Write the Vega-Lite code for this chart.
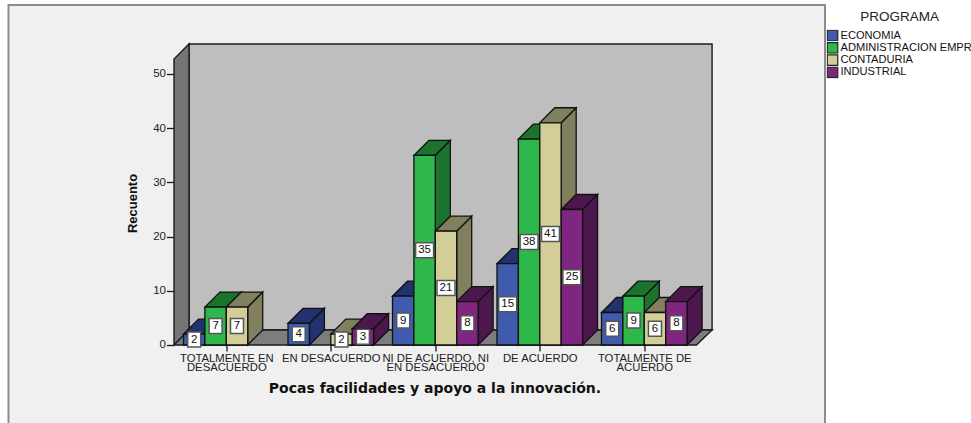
{
"$schema":"https://vega.github.io/schema/vega-lite/v6.json",
"width":816.5,"height":419,
"autosize":{"type":"none"},
"padding":{"left":8.5,"top":5,"right":146,"bottom":0},
"background":"#ffffff",
"view":{"fill":"#f0f0f0","stroke":"#8c8c8c","strokeWidth":2},
"datasets":{
"bars":[
{"categoria":"TOTALMENTE EN DESACUERDO","g":0,"s":0,"programa":"ECONOMIA","v":2},
{"categoria":"TOTALMENTE EN DESACUERDO","g":0,"s":1,"programa":"ADMINISTRACION EMPR","v":7},
{"categoria":"TOTALMENTE EN DESACUERDO","g":0,"s":2,"programa":"CONTADURIA","v":7},
{"categoria":"EN DESACUERDO","g":1,"s":0,"programa":"ECONOMIA","v":4},
{"categoria":"EN DESACUERDO","g":1,"s":2,"programa":"CONTADURIA","v":2},
{"categoria":"EN DESACUERDO","g":1,"s":3,"programa":"INDUSTRIAL","v":3},
{"categoria":"NI DE ACUERDO, NI EN DESACUERDO","g":2,"s":0,"programa":"ECONOMIA","v":9},
{"categoria":"NI DE ACUERDO, NI EN DESACUERDO","g":2,"s":1,"programa":"ADMINISTRACION EMPR","v":35},
{"categoria":"NI DE ACUERDO, NI EN DESACUERDO","g":2,"s":2,"programa":"CONTADURIA","v":21},
{"categoria":"NI DE ACUERDO, NI EN DESACUERDO","g":2,"s":3,"programa":"INDUSTRIAL","v":8},
{"categoria":"DE ACUERDO","g":3,"s":0,"programa":"ECONOMIA","v":15},
{"categoria":"DE ACUERDO","g":3,"s":1,"programa":"ADMINISTRACION EMPR","v":38},
{"categoria":"DE ACUERDO","g":3,"s":2,"programa":"CONTADURIA","v":41},
{"categoria":"DE ACUERDO","g":3,"s":3,"programa":"INDUSTRIAL","v":25},
{"categoria":"TOTALMENTE DE ACUERDO","g":4,"s":0,"programa":"ECONOMIA","v":6},
{"categoria":"TOTALMENTE DE ACUERDO","g":4,"s":1,"programa":"ADMINISTRACION EMPR","v":9},
{"categoria":"TOTALMENTE DE ACUERDO","g":4,"s":2,"programa":"CONTADURIA","v":6},
{"categoria":"TOTALMENTE DE ACUERDO","g":4,"s":3,"programa":"INDUSTRIAL","v":8}
],
"frame":[
{"part":"pared","x":0.257,"y":2.768,"y2":55.54},
{"part":"pared","x":24.70,"y":2.768,"y2":55.54},
{"part":"lateral","x":-0.444,"y":0,"y2":52.77},
{"part":"lateral","x":0.257,"y":2.768,"y2":55.54},
{"part":"piso","x":-0.444,"y":0,"y2":0},
{"part":"piso","x":0.257,"y":0,"y2":2.768},
{"part":"piso","x":23.97,"y":0,"y2":2.768},
{"part":"piso","x":24.70,"y":2.768,"y2":2.768}
]
},
"layer":[
{
"data":{"name":"frame"},
"mark":{"type":"area","stroke":"#1a1a1a","strokeWidth":1.4,"opacity":1},
"encoding":{
"x":{"field":"x","type":"quantitative",
"scale":{"domain":[-8.178,29.977],"nice":false,"zero":false},
"axis":{"values":[2,6.883,11.766,16.649,21.532],"grid":false,"domain":false,"tickSize":6,"tickColor":"#1a1a1a","tickWidth":1.3,"offset":-79,
"labelExpr":"split(['TOTALMENTE EN|DESACUERDO','EN DESACUERDO','NI DE ACUERDO, NI|EN DESACUERDO','DE ACUERDO','TOTALMENTE DE|ACUERDO'][round((datum.value-2)/4.883)],'|')",
"labelFont":"Liberation Sans","labelFontSize":11.3,"labelColor":"#222222","labelLineHeight":9.4,"labelPadding":1,"labelFlush":false,"labelOverlap":false,"labelBaseline":"top",
"title":"Pocas facilidades y apoyo a la innovación.","titleFont":"DejaVu Sans","titleFontWeight":"bold","titleFontSize":14,"titleColor":"#111111","titleX":426,"titleY":43,"titleBaseline":"middle","titleAlign":"center"}},
"y":{"field":"y","type":"quantitative",
"scale":{"domain":[-14.576,62.73],"nice":false,"zero":false},
"axis":{"values":[0,10,20,30,40,50],"grid":false,"domain":false,"tickSize":7,"tickColor":"#1a1a1a","tickWidth":1.3,"offset":-165,
"labelFont":"Liberation Sans","labelFontSize":11.5,"labelColor":"#222222","labelPadding":1,
"title":"Recuento","titleFont":"Liberation Sans","titleFontWeight":"bold","titleFontSize":13,"titleColor":"#111111","titleX":-41,"titleY":198,"titleBaseline":"middle","titleAlign":"center"}},
"y2":{"field":"y2"},
"fill":{"field":"part","type":"nominal","scale":{"domain":["pared","lateral","piso","ECONOMIA","ADMINISTRACION EMPR","CONTADURIA","INDUSTRIAL"],"range":["#bebebe","#757575","#7d7d7d","#22326f","#1c732e","#807f5e","#4c174c"]},"legend":null}
}
},
{
"data":{"name":"bars"},
"transform":[
{"calculate":"datum.g*4.883+datum.s","as":"ux"},
{"calculate":"[0,1,10,11,12,13]","as":"p"},
{"flatten":["p"]},
{"calculate":"datum.p<10?'lado':'techo'","as":"cara"},
{"calculate":"datum.p<10?datum.ux+1+datum.p*0.701:datum.ux+[0,0.701,1,1.701][datum.p-10]","as":"xa"},
{"calculate":"datum.p<10?datum.p*2.768:datum.v+[0,0,0,2.768][datum.p-10]","as":"ya"},
{"calculate":"datum.p<10?datum.v+datum.p*2.768:datum.v+[0,2.768,2.768,2.768][datum.p-10]","as":"yb"},
{"calculate":"datum.g+'-'+datum.s+'-'+datum.cara","as":"clave"}
],
"mark":{"type":"area","stroke":"#111111","strokeWidth":1.3,"opacity":1},
"encoding":{
"x":{"field":"xa","type":"quantitative"},
"y":{"field":"ya","type":"quantitative"},
"y2":{"field":"yb"},
"detail":{"field":"clave","type":"nominal"},
"fill":{"field":"programa","type":"nominal","legend":null}
}
},
{
"data":{"name":"bars"},
"transform":[
{"calculate":"datum.g*4.883+datum.s","as":"ux"},
{"calculate":"datum.ux+1","as":"ux2"},
{"calculate":"0","as":"base"}
],
"mark":{"type":"rect","stroke":"#111111","strokeWidth":1.3},
"encoding":{
"x":{"field":"ux","type":"quantitative"},
"x2":{"field":"ux2"},
"y":{"field":"v","type":"quantitative"},
"y2":{"field":"base"},
"color":{"field":"programa","type":"nominal",
"scale":{"domain":["ECONOMIA","ADMINISTRACION EMPR","CONTADURIA","INDUSTRIAL"],"range":["#3e5bad","#2eb84c","#d3ce97","#7f2680"]},
"legend":{"orient":"none","legendX":818,"legendY":5,"title":"PROGRAMA","titleFont":"Liberation Sans","titleFontSize":13.5,"titleFontWeight":"normal","titleColor":"#222222","titleAnchor":"middle","titleLimit":300,"titlePadding":6,
"labelFont":"Liberation Sans","labelFontSize":11.1,"labelColor":"#111111","labelLimit":400,"labelOffset":2,"symbolType":"square","symbolSize":110,"symbolStrokeColor":"#222222","symbolStrokeWidth":1.2,"clipHeight":12,"rowPadding":0.3,"padding":0}}
}
},
{
"data":{"name":"bars"},
"transform":[
{"calculate":"datum.g*4.883+datum.s+0.5","as":"cx"},
{"calculate":"datum.v>=10?0.42:0.304","as":"hw"},
{"calculate":"datum.cx-datum.hw","as":"bx"},
{"calculate":"datum.cx+datum.hw","as":"bx2"},
{"calculate":"datum.v/2-1.384","as":"by"},
{"calculate":"datum.v/2+1.384","as":"by2"}
],
"mark":{"type":"rect","fill":"#ffffff","stroke":"#555555","strokeWidth":1.5},
"encoding":{
"x":{"field":"bx","type":"quantitative"},
"x2":{"field":"bx2"},
"y":{"field":"by","type":"quantitative"},
"y2":{"field":"by2"}
}
},
{
"data":{"name":"bars"},
"transform":[
{"calculate":"datum.g*4.883+datum.s+0.5","as":"cx"},
{"calculate":"datum.v/2","as":"my"}
],
"mark":{"type":"text","font":"Liberation Sans","fontSize":11.5,"color":"#111111","align":"center","baseline":"middle"},
"encoding":{
"x":{"field":"cx","type":"quantitative"},
"y":{"field":"my","type":"quantitative"},
"text":{"field":"v","type":"quantitative"}
}
}
]
}
